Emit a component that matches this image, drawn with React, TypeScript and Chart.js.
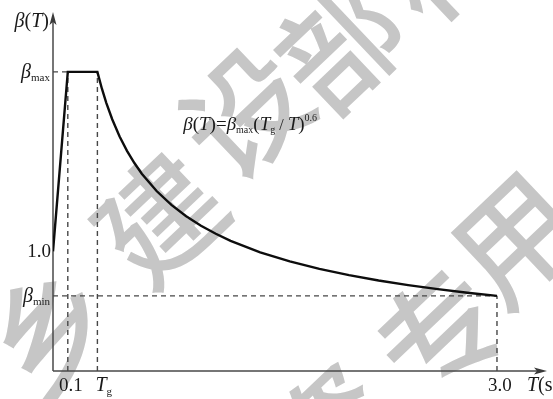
import React, { useEffect, useRef } from "react";
import { Chart, registerables } from "chart.js";

Chart.register(...registerables);

// Response spectrum
const T_CURVE = [0, 0.1, 0.3, 0.33, 0.36, 0.4, 0.45, 0.5, 0.55, 0.6, 0.7, 0.8, 0.9, 1.0, 1.1, 1.2, 1.4, 1.6, 1.8, 2.0, 2.2, 2.4, 2.6, 2.8, 3.0];
const BETA_CURVE = [1.0, 2.5, 2.5, 2.361, 2.241, 2.104, 1.96, 1.84, 1.738, 1.649, 1.504, 1.388, 1.293, 1.214, 1.147, 1.088, 0.992, 0.916, 0.853, 0.801, 0.756, 0.718, 0.684, 0.654, 0.628];

const T_01 = 0.1;
const T_G = 0.3;
const T_END = 3.0;
const BETA_MAX = 2.5;
const BETA_ONE = 1.0;
const BETA_MIN = 0.628;

const X_MAX = 3.338;
const Y_MAX = 3.0;

const X_TICK_LABELS = ["0.1", "T_g", "3.0"];
const Y_TICK_LABELS = ["β_max", "1.0", "β_min"];

const WATERMARK_CHARS = ["乡", "建", "设", "部", "标", "资", "专", "用"];
const WATERMARK_POS = [
  [50, 330], [160, 218], [245, 112], [340, 45], [440, -45],
  [330, 430], [440, 332], [515, 238],
];

const SERIF = "'Liberation Serif', 'DejaVu Serif', serif";

type Part = { t: string; i?: boolean; s: number; dy?: number };

function drawRich(ctx: CanvasRenderingContext2D, parts: Part[], x: number, y: number, align: "left" | "right" | "center") {
  let total = 0;
  const widths: number[] = [];
  for (const p of parts) {
    ctx.font = `${p.i ? "italic " : ""}${p.s}px ${SERIF}`;
    const w = ctx.measureText(p.t).width;
    widths.push(w);
    total += w;
  }
  let cx = align === "left" ? x : align === "right" ? x - total : x - total / 2;
  ctx.textBaseline = "alphabetic";
  ctx.textAlign = "left";
  parts.forEach((p, k) => {
    ctx.font = `${p.i ? "italic " : ""}${p.s}px ${SERIF}`;
    ctx.fillText(p.t, cx, y + (p.dy || 0));
    cx += widths[k];
  });
}

const decoPlugin = {
  id: "deco",
  beforeDraw(chart: any) {
    const ctx = chart.ctx as CanvasRenderingContext2D;
    ctx.save();
    ctx.fillStyle = "#ffffff";
    ctx.fillRect(0, 0, chart.width, chart.height);
    ctx.fillStyle = "#c6c6c6";
    ctx.font = `500 122px 'Noto Sans CJK SC', sans-serif`;
    ctx.textAlign = "center";
    ctx.textBaseline = "middle";
    WATERMARK_CHARS.forEach((c, k) => {
      const [px, py] = WATERMARK_POS[k];
      ctx.save();
      ctx.translate(px, py);
      ctx.rotate(-0.76);
      ctx.fillText(c, 0, 0);
      ctx.restore();
    });
    ctx.restore();
  },
  beforeDatasetsDraw(chart: any) {
    const ctx = chart.ctx as CanvasRenderingContext2D;
    const xs = chart.scales.x;
    const ys = chart.scales.y;
    const x0 = xs.getPixelForValue(0);
    const y0 = ys.getPixelForValue(0);
    const xr = xs.getPixelForValue(X_MAX);
    const yt = ys.getPixelForValue(Y_MAX);
    ctx.save();
    ctx.strokeStyle = "#4a4a4a";
    ctx.fillStyle = "#3a3a3a";
    ctx.lineWidth = 1.5;
    ctx.beginPath();
    ctx.moveTo(x0, y0);
    ctx.lineTo(x0, yt + 8);
    ctx.moveTo(x0, y0);
    ctx.lineTo(xr - 8, y0);
    ctx.stroke();
    ctx.beginPath();
    ctx.moveTo(x0, yt);
    ctx.lineTo(x0 - 3.5, yt + 13);
    ctx.lineTo(x0, yt + 10);
    ctx.lineTo(x0 + 3.5, yt + 13);
    ctx.closePath();
    ctx.fill();
    ctx.beginPath();
    ctx.moveTo(xr, y0);
    ctx.lineTo(xr - 13, y0 - 3.5);
    ctx.lineTo(xr - 10, y0);
    ctx.lineTo(xr - 13, y0 + 3.5);
    ctx.closePath();
    ctx.fill();
    ctx.restore();
  },
  afterDatasetsDraw(chart: any) {
    const ctx = chart.ctx as CanvasRenderingContext2D;
    const xs = chart.scales.x;
    const ys = chart.scales.y;
    const x0 = xs.getPixelForValue(0);
    const y0 = ys.getPixelForValue(0);
    ctx.save();
    ctx.fillStyle = "#1a1a1a";
    drawRich(ctx, [
      { t: "β", i: true, s: 20 },
      { t: "(", s: 20 },
      { t: "T", i: true, s: 20 },
      { t: ")", s: 20 },
    ], x0 - 4, 27, "right");
    const yVals = [BETA_MAX, BETA_ONE, BETA_MIN];
    yVals.forEach((v, k) => {
      const py = ys.getPixelForValue(v);
      const lab = Y_TICK_LABELS[k];
      if (lab.includes("_")) {
        const [a, b] = lab.split("_");
        drawRich(ctx, [{ t: a, i: true, s: 20 }, { t: b, s: 11, dy: 3 }], x0 - 3, py + 6, "right");
      } else {
        drawRich(ctx, [{ t: lab, s: 19 }], x0 - 2, py + 6, "right");
      }
    });
    const xVals = [T_01, T_G, T_END];
    xVals.forEach((v, k) => {
      const px = xs.getPixelForValue(v);
      const lab = X_TICK_LABELS[k];
      if (lab.includes("_")) {
        const [a, b] = lab.split("_");
        drawRich(ctx, [{ t: a, i: true, s: 20 }, { t: b, s: 11, dy: 4 }], px - 2, y0 + 20, "left");
      } else {
        drawRich(ctx, [{ t: lab, s: 19 }], px + 3, y0 + 20, "center");
      }
    });
    drawRich(ctx, [
      { t: "T", i: true, s: 20 },
      { t: "(s)", s: 20 },
    ], xs.getPixelForValue(X_MAX) - 20, y0 + 20, "left");
    drawRich(ctx, [
      { t: "β", i: true, s: 19 },
      { t: "(", s: 19 },
      { t: "T", i: true, s: 19 },
      { t: ")=", s: 19 },
      { t: "β", i: true, s: 19 },
      { t: "max", s: 10, dy: 3 },
      { t: "(", s: 19 },
      { t: "T", i: true, s: 19 },
      { t: "g", s: 10, dy: 3 },
      { t: " / ", s: 16 },
      { t: "T", i: true, s: 19 },
      { t: ")", s: 19 },
      { t: "0.6", s: 10, dy: -9 },
    ], xs.getPixelForValue(0.88), 130, "left");
    ctx.restore();
  },
};

export default function App() {
  const ref = useRef<HTMLCanvasElement | null>(null);
  useEffect(() => {
    if (!ref.current) return;
    const dash = {
      borderColor: "#474747",
      borderWidth: 1.4,
      borderDash: [5, 4],
      pointRadius: 0,
      fill: false,
      tension: 0,
    };
    const chart = new Chart(ref.current, {
      type: "line",
      data: {
        datasets: [
          {
            label: "β(T)",
            data: T_CURVE.map((t, k) => ({ x: t, y: BETA_CURVE[k] })),
            borderColor: "#0d0d0d",
            borderWidth: 2.4,
            pointRadius: 0,
            fill: false,
            tension: 0,
            borderJoinStyle: "miter",
          },
          { label: "0.1", data: [{ x: T_01, y: 0 }, { x: T_01, y: BETA_MAX }], ...dash },
          { label: "Tg", data: [{ x: T_G, y: 0 }, { x: T_G, y: BETA_MAX }], ...dash },
          { label: "βmax", data: [{ x: 0, y: BETA_MAX }, { x: T_01, y: BETA_MAX }], ...dash },
          { label: "βmin", data: [{ x: 0, y: BETA_MIN }, { x: T_END, y: BETA_MIN }], ...dash },
          { label: "3.0", data: [{ x: T_END, y: 0 }, { x: T_END, y: BETA_MIN }], ...dash },
        ] as any,
      },
      options: {
        animation: false,
        responsive: false,
        devicePixelRatio: 1,
        layout: { padding: { left: 53, right: 6, top: 12, bottom: 28 } },
        plugins: { legend: { display: false }, tooltip: { enabled: false } },
        scales: {
          x: { type: "linear", display: false, min: 0, max: X_MAX },
          y: { type: "linear", display: false, min: 0, max: Y_MAX },
        },
      },
      plugins: [decoPlugin],
    });
    return () => chart.destroy();
  }, []);
  return (
    <div style={{ position: "fixed", left: 0, top: 0, width: 553, height: 399, background: "#fff" }}>
      <canvas ref={ref} width={553} height={399} style={{ width: 553, height: 399, display: "block" }} />
    </div>
  );
}
